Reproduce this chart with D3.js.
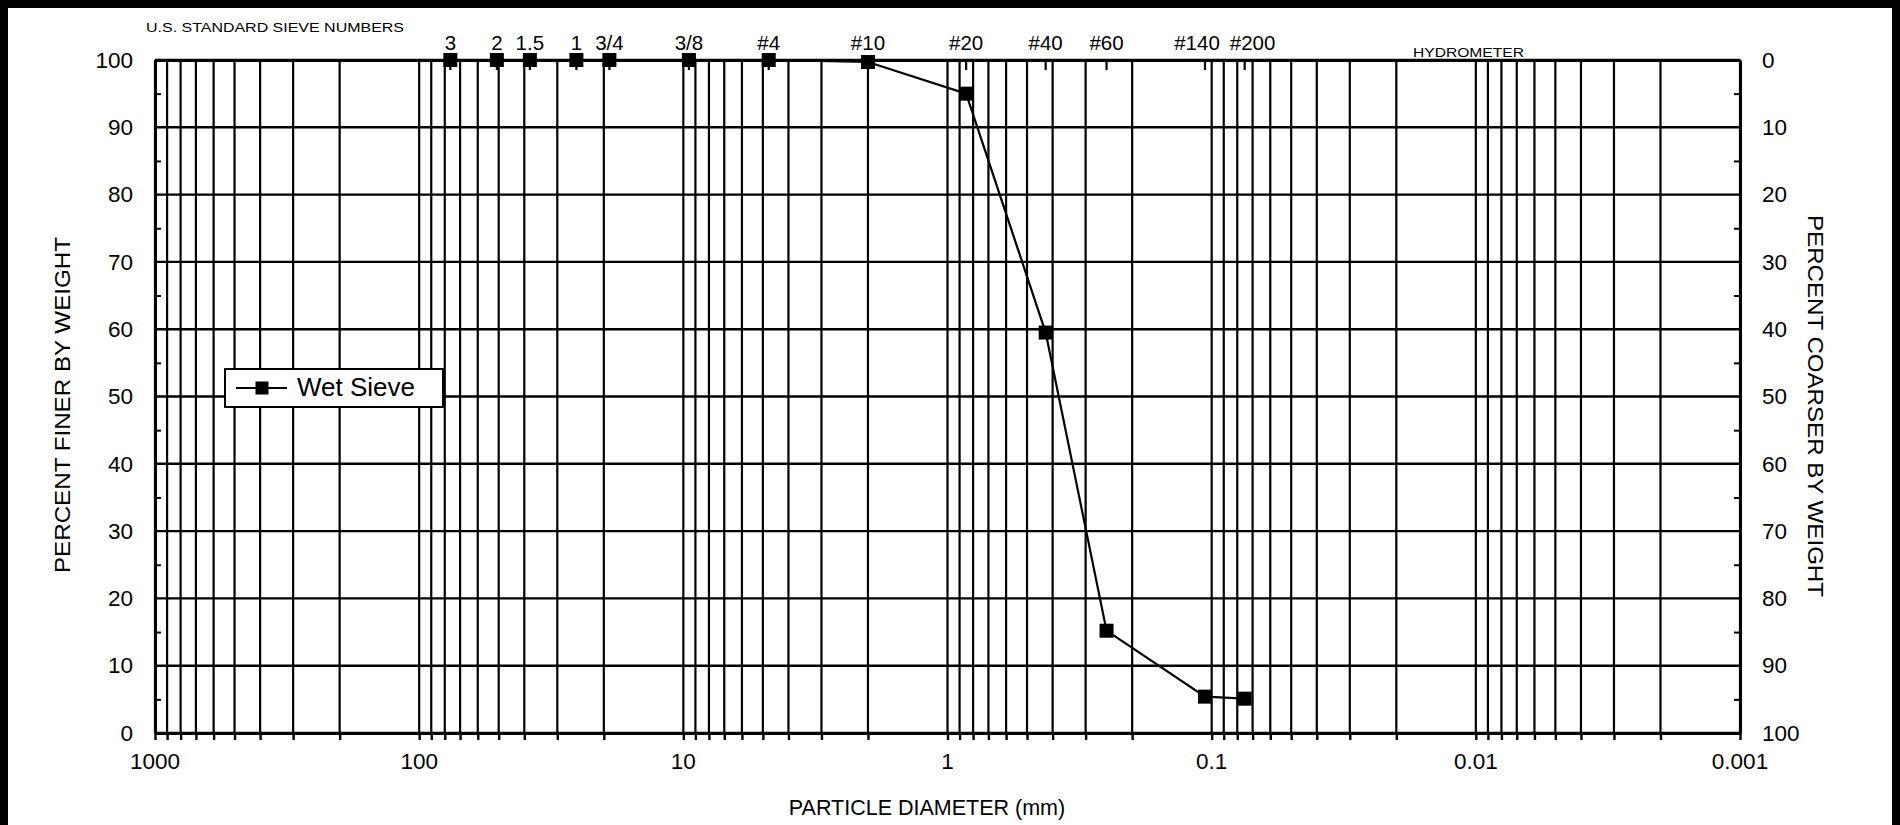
<!DOCTYPE html>
<html>
<head>
<meta charset="utf-8">
<script src="https://cdn.jsdelivr.net/npm/d3@7"></script>
<style>
  html, body { margin: 0; padding: 0; background: #fff; }
  svg { display: block; font-family: "Liberation Sans", Arial, sans-serif; }
</style>
</head>
<body>
<svg id="chart" width="1900" height="825"></svg>
<script>
// ---------------- data ----------------
const sieveLabels = ["3", "2", "1.5", "1", "3/4", "3/8", "#4", "#10", "#20", "#40", "#60", "#140", "#200"];
const sieveSizesMm = [76.2, 50.8, 38.1, 25.4, 19.05, 9.525, 4.75, 2.0, 0.85, 0.425, 0.25, 0.106, 0.075];
const wetSievePercentFiner = [100, 100, 100, 100, 100, 100, 100, 99.7, 95.0, 59.5, 15.2, 5.4, 5.1];
const xTickLabels = ["1000", "100", "10", "1", "0.1", "0.01", "0.001"];
const yTickValues = [0, 10, 20, 30, 40, 50, 60, 70, 80, 90, 100];
const yMinorValues = [5, 15, 25, 35, 45, 55, 65, 75, 85, 95];
const seriesName = "Wet Sieve";

(function () {
// ---------------- layout ----------------
const W = 1900, H = 825;
const pL = 155, pR = 1740, pT = 60, pB = 733;
const svg = d3.select("#chart");

const x = d3.scaleLog().domain([1000, 0.001]).range([pL, pR]);
const y = d3.scaleLinear().domain([0, 100]).range([pB, pT]);
const yR = d3.scaleLinear().domain([100, 0]).range([pB, pT]);

// outer frame (bottom edge runs off the picture)
svg.append("rect")
  .attr("x", 4).attr("y", 4).attr("width", W - 8).attr("height", H + 40)
  .attr("fill", "none").attr("stroke", "#000").attr("stroke-width", 8);

// vertical grid lines
const gridX = x.ticks();
svg.append("g").selectAll("line").data(gridX).join("line")
  .attr("x1", d => x(d)).attr("x2", d => x(d))
  .attr("y1", pT).attr("y2", pB)
  .attr("stroke", "#000").attr("stroke-width", 2.2);

// horizontal grid lines
svg.append("g").selectAll("line").data(yTickValues).join("line")
  .attr("x1", pL).attr("x2", pR)
  .attr("y1", d => y(d)).attr("y2", d => y(d))
  .attr("stroke", "#000").attr("stroke-width", 2.4);

// bottom axis (ticks at every grid line)
const gB = svg.append("g").attr("transform", `translate(0,${pB})`)
  .call(d3.axisBottom(x).tickValues(gridX).tickSize(7).tickFormat("").tickSizeOuter(0));
gB.select(".domain").attr("stroke-width", 3);
gB.selectAll(".tick line").attr("stroke-width", 2.4);

// bottom tick labels (decades)
svg.append("g").selectAll("text").data(xTickLabels).join("text")
  .attr("x", d => x(+d)).attr("y", 769)
  .attr("text-anchor", "middle").attr("font-size", 22.5)
  .text(d => d);

// top axis line
const gT = svg.append("g").attr("transform", `translate(0,${pT})`)
  .call(d3.axisTop(x).tickValues([]).tickSizeOuter(0));
gT.select(".domain").attr("stroke-width", 3);

// sieve ticks (inside, below top line)
svg.append("g").selectAll("line").data(sieveSizesMm).join("line")
  .attr("x1", d => x(d)).attr("x2", d => x(d))
  .attr("y1", pT).attr("y2", pT + 10)
  .attr("stroke", "#000").attr("stroke-width", 2.2);

// sieve labels with simple overlap avoidance
const sl = svg.append("g").selectAll("text").data(sieveLabels).join("text")
  .attr("y", 50).attr("text-anchor", "middle").attr("font-size", 20.5)
  .text(d => d);
const pos = sieveSizesMm.map(s => x(s));
const widths = [];
sl.each(function () { widths.push(this.getComputedTextLength()); });
for (let it = 0; it < 50; it++) {
  for (let i = 1; i < pos.length; i++) {
    const need = (widths[i - 1] + widths[i]) / 2 + 10;
    const gap = pos[i] - pos[i - 1];
    if (gap < need) {
      const push = (need - gap) / 2;
      pos[i - 1] -= push; pos[i] += push;
    }
  }
}
sl.attr("x", (d, i) => pos[i]);

svg.append("text").attr("x", 146).attr("y", 32)
  .attr("font-size", 13.5).attr("textLength", 258).attr("lengthAdjust", "spacingAndGlyphs")
  .text("U.S. STANDARD SIEVE NUMBERS");

svg.append("text").attr("x", 1413).attr("y", 57)
  .attr("font-size", 13).attr("textLength", 111).attr("lengthAdjust", "spacingAndGlyphs")
  .text("HYDROMETER");

// left axis
const gL = svg.append("g").attr("transform", `translate(${pL},0)`)
  .call(d3.axisLeft(y).tickValues(yTickValues).tickSize(0).tickPadding(22).tickSizeOuter(0));
gL.select(".domain").attr("stroke-width", 3);
gL.selectAll("text").attr("font-size", 22.5).attr("font-family", "Liberation Sans, Arial, sans-serif").attr("fill", "#000");
svg.append("g").attr("transform", `translate(${pL},0)`)
  .call(d3.axisRight(y).tickValues(yMinorValues).tickSize(6).tickFormat("").tickSizeOuter(0))
  .call(g => g.select(".domain").remove())
  .selectAll(".tick line").attr("stroke-width", 2);

// right axis
const gR = svg.append("g").attr("transform", `translate(${pR},0)`)
  .call(d3.axisRight(yR).tickValues(yTickValues).tickSize(0).tickPadding(22).tickSizeOuter(0));
gR.select(".domain").attr("stroke-width", 3);
gR.selectAll("text").attr("font-size", 22.5).attr("font-family", "Liberation Sans, Arial, sans-serif").attr("fill", "#000");
svg.append("g").attr("transform", `translate(${pR},0)`)
  .call(d3.axisLeft(yR).tickValues(yMinorValues).tickSize(6).tickFormat("").tickSizeOuter(0))
  .call(g => g.select(".domain").remove())
  .selectAll(".tick line").attr("stroke-width", 2);

// axis titles
svg.append("text")
  .attr("transform", "translate(70,405) rotate(-90)")
  .attr("text-anchor", "middle").attr("font-size", 22)
  .attr("textLength", 336).attr("lengthAdjust", "spacingAndGlyphs")
  .text("PERCENT FINER BY WEIGHT");
svg.append("text")
  .attr("transform", "translate(1808,406) rotate(90)")
  .attr("text-anchor", "middle").attr("font-size", 22)
  .attr("textLength", 382).attr("lengthAdjust", "spacingAndGlyphs")
  .text("PERCENT COARSER BY WEIGHT");
svg.append("text")
  .attr("x", (790 + 1064) / 2).attr("y", 815)
  .attr("text-anchor", "middle").attr("font-size", 21.5)
  .text("PARTICLE DIAMETER (mm)");

// data series
const pts = sieveSizesMm.map((s, i) => [s, wetSievePercentFiner[i]]);
svg.append("path").datum(pts)
  .attr("d", d3.line().x(d => x(d[0])).y(d => y(d[1])))
  .attr("fill", "none").attr("stroke", "#000").attr("stroke-width", 2.2);
const ms = 14;
svg.append("g").selectAll("rect").data(pts).join("rect")
  .attr("x", d => x(d[0]) - ms / 2).attr("y", d => y(d[1]) - ms / 2)
  .attr("width", ms).attr("height", ms).attr("fill", "#000");

// legend
const lg = svg.append("g");
lg.append("rect").attr("x", 225).attr("y", 369).attr("width", 218).attr("height", 38)
  .attr("fill", "#fff").attr("stroke", "#000").attr("stroke-width", 2);
lg.append("line").attr("x1", 236).attr("x2", 287).attr("y1", 388).attr("y2", 388)
  .attr("stroke", "#000").attr("stroke-width", 2.2);
lg.append("rect").attr("x", 262 - 6.5).attr("y", 388 - 6.5).attr("width", 13).attr("height", 13).attr("fill", "#000");
lg.append("text").attr("x", 297).attr("y", 396).attr("font-size", 26).text(seriesName);
})();
</script>
</body>
</html>
